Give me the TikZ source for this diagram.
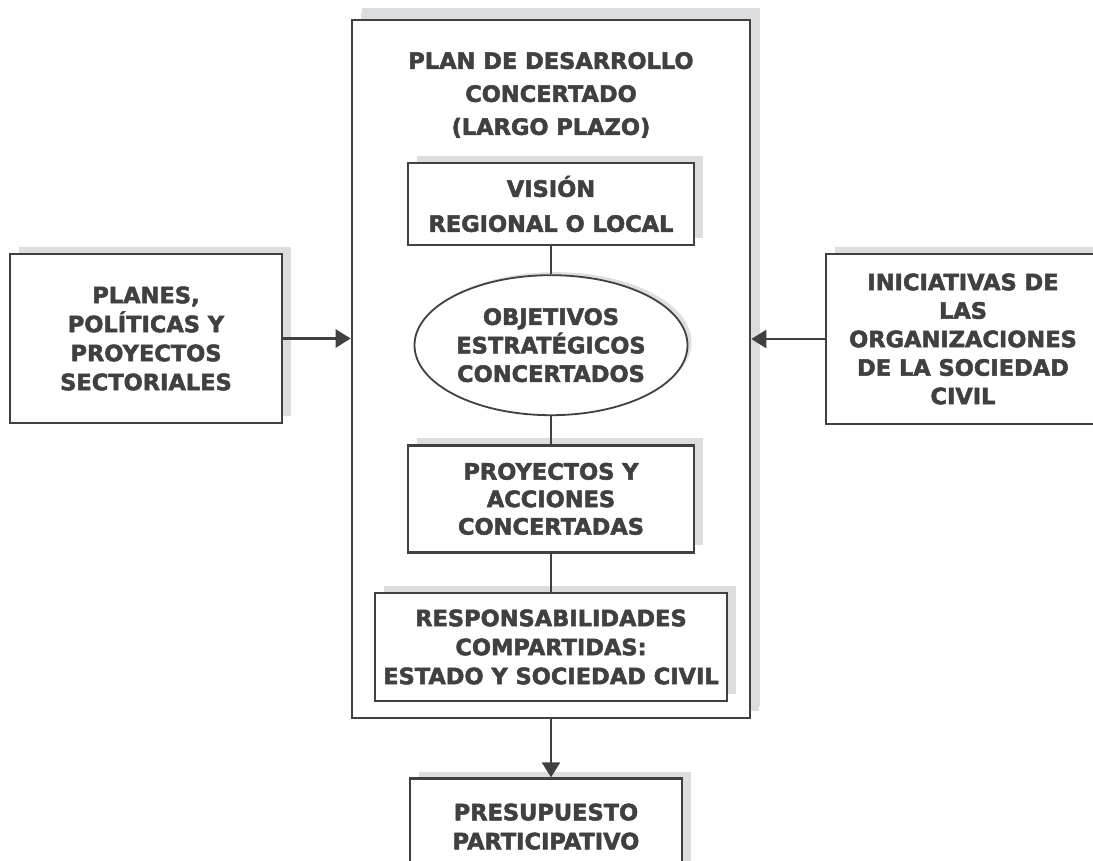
\documentclass[tikz,border=0pt]{standalone}
\usepackage{fontspec}
\setmainfont{DejaVu Sans}[BoldFeatures={FakeBold=2.2}]
\usetikzlibrary{positioning}
\usetikzlibrary{arrows.meta}
\usetikzlibrary{shapes.geometric}
\usetikzlibrary{shadows}
\definecolor{inkgrey}{HTML}{404040}
\definecolor{shadegrey}{HTML}{DCDDDE}

\begin{document}
\begin{tikzpicture}[x=1pt, y=-1pt,
    box/.style={rectangle, draw=inkgrey, line width=2.6pt, fill=white, text=inkgrey, align=center, inner sep=0pt, font=\fontsize{22.5}{29}\selectfont\bfseries, drop shadow={shadow xshift=9pt, shadow yshift=7pt, fill=shadegrey, opacity=1}},
    oval/.style={ellipse, draw=inkgrey, line width=1.8pt, fill=white, text=inkgrey, align=center, inner sep=0pt, minimum width=273pt, minimum height=140pt, font=\fontsize{22.5}{28.5}\selectfont\bfseries, drop shadow={shadow xshift=4pt, shadow yshift=3pt, fill=black!13, opacity=1}},
    link/.style={draw=inkgrey, line width=2.6pt},
    flow/.style={link, -{Triangle[length=15pt, width=18pt]}}]
            \useasboundingbox (0,0) rectangle (1093,861);
            \clip (0,0) rectangle (1093,861);

            \node[box, minimum width=398pt, minimum height=698pt, drop shadow={shadow xshift=10pt, shadow yshift=12pt, fill=shadegrey, opacity=1}] (plan) at (551,369) {};
            \node[text=inkgrey, align=center, font=\fontsize{22.5}{33}\selectfont\bfseries] (plan_label) at (551,95) {PLAN DE DESARROLLO\\CONCERTADO\\(LARGO PLAZO)};

            \node[box, minimum width=286pt, minimum height=82pt, font=\fontsize{22.5}{35}\selectfont\bfseries] (vision) at (551,204) {VISIÓN\\REGIONAL O LOCAL};
            \node[oval, below = 28pt of vision] (objetivos) {OBJETIVOS\\ESTRATÉGICOS\\CONCERTADOS};
            \node[box, below = 28pt of objetivos, minimum width=286pt, minimum height=107pt, font=\fontsize{22.5}{27.5}\selectfont\bfseries] (proyectos) {PROYECTOS Y\\ACCIONES\\CONCERTADAS};
            \node[box, below = 38pt of proyectos, minimum width=352pt, minimum height=108pt] (responsabilidades) {RESPONSABILIDADES\\COMPARTIDAS:\\ESTADO Y SOCIEDAD CIVIL};

            \node[box, minimum width=272pt, minimum height=169pt] (planes) at (146,338.5) {PLANES,\\POLÍTICAS Y\\PROYECTOS\\SECTORIALES};
            \node[box, minimum width=274pt, minimum height=170pt, font=\fontsize{22.5}{28.5}\selectfont\bfseries] (iniciativas) at (963,339) {INICIATIVAS DE\\LAS\\ORGANIZACIONES\\DE LA SOCIEDAD\\CIVIL};
            \node[box, below = 58pt of plan, xshift=-5pt, minimum width=272pt, minimum height=96pt] (presupuesto) {PRESUPUESTO\\PARTICIPATIVO};

            \draw[link] (vision) -- (objetivos);
            \draw[link] (objetivos) -- (proyectos);
            \draw[link] (proyectos) -- (responsabilidades);
            \draw[flow] (planes.east) -- (planes.east -| plan.west);
            \draw[flow] (iniciativas.west) -- (iniciativas.west -| plan.east);
            \draw[flow] (plan.south) -- (plan.south |- presupuesto.north);
        \end{tikzpicture}
\end{document}
